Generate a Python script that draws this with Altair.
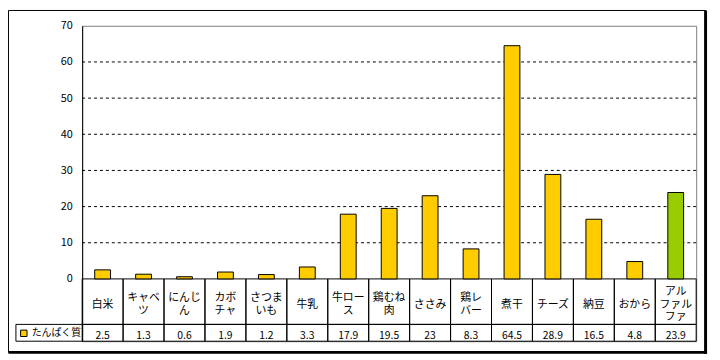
import altair as alt
import pandas as pd

# ---- data ----
categories = ["白米", "キャベツ", "にんじん", "カボチャ", "さつまいも", "牛乳", "牛ロース",
              "鶏むね肉", "ささみ", "鶏レバー", "煮干", "チーズ", "納豆", "おから", "アルファルファ"]
wrapped = ["白米", "キャベ\nツ", "にんじ\nん", "カボ\nチャ", "さつま\nいも", "牛乳", "牛ロー\nス",
           "鶏むね\n肉", "ささみ", "鶏レ\nバー", "煮干", "チーズ", "納豆", "おから", "アル\nファル\nファ"]
values = [2.5, 1.3, 0.6, 1.9, 1.2, 3.3, 17.9, 19.5, 23, 8.3, 64.5, 28.9, 16.5, 4.8, 23.9]
value_text = ["2.5", "1.3", "0.6", "1.9", "1.2", "3.3", "17.9", "19.5", "23", "8.3",
              "64.5", "28.9", "16.5", "4.8", "23.9"]
groups = ["たんぱく質"] * 14 + ["アルファルファ"]
series_name = "たんぱく質"
y_ticks = [0, 10, 20, 30, 40, 50, 60, 70]
grid_vals = [10, 20, 30, 40, 50, 60]

# ---- layout constants (in y-scale units for the data table rows) ----
Y_MAX = 70
ROW1_BOTTOM = -12.58
ROW2_BOTTOM = -17.23
W, H = 621, 319
LINE_H = 12.5                                  # px
LINE_H_UNITS = LINE_H * (Y_MAX - ROW2_BOTTOM) / H
FONT = "Noto Sans CJK JP"

df = pd.DataFrame({"cat": categories, "label": wrapped, "v": values,
                   "vt": value_text, "grp": groups})

xs = alt.Scale(domain=categories, paddingInner=0, paddingOuter=0)
ys = alt.Scale(domain=[ROW2_BOTTOM, Y_MAX], nice=False, zero=False)
yaxis = alt.Axis(values=y_ticks, title=None, grid=False, ticks=False, labelPadding=10,
                 labelFontSize=11, labelFont=FONT, labelColor="black",
                 domainColor="black", domainWidth=1)


def X():
    return alt.X("cat:N", sort=categories, scale=xs, axis=None)


def Y(field):
    return alt.Y(field, scale=ys, axis=yaxis)


base = alt.Chart(df)

grid = alt.Chart(pd.DataFrame({"g": grid_vals})).mark_rule(
    color="black", strokeDash=[3, 3], strokeWidth=1
).encode(y=Y("g:Q"))

bars = base.mark_bar(size=16, stroke="black", strokeWidth=1).encode(
    x=X(),
    y=Y("v:Q"),
    y2=alt.datum(0),
    color=alt.Color("grp:N", scale=alt.Scale(domain=["たんぱく質", "アルファルファ"],
                                             range=["#FFCC00", "#99CC00"]),
                    legend=alt.Legend(orient="none", legendX=-64, legendY=306, title=None,
                                      values=[series_name], symbolType="square",
                                      symbolSize=42, symbolStrokeColor="black",
                                      symbolStrokeWidth=1, labelFontSize=10,
                                      labelFont=FONT, labelColor="black",
                                      padding=0, labelOffset=3)),
)

cells = pd.DataFrame({
    "cat": categories * 2,
    "top": [0] * 15 + [ROW1_BOTTOM] * 15,
    "bot": [ROW1_BOTTOM] * 15 + [ROW2_BOTTOM] * 15,
})
table = alt.Chart(cells).mark_rect(fillOpacity=0, stroke="black", strokeWidth=1).encode(
    x=X(), y=Y("top:Q"), y2="bot:Q"
)

cat_text = base.mark_text(fontSize=11, font=FONT, color="black", lineBreak="\n",
                          lineHeight=LINE_H, baseline="middle", dy=3).transform_calculate(
    n="length(split(datum.label, '\\n'))"
).transform_calculate(
    ly=f"{ROW1_BOTTOM / 2} + (datum.n - 1) * {LINE_H_UNITS / 2}"
).encode(x=X(), y=Y("ly:Q"), text="label:N")

val_text = base.mark_text(fontSize=10.5, font=FONT, color="black", baseline="middle",
                          dy=3).encode(
    x=X(), y=Y("vy:Q"), text="vt:N"
).transform_calculate(vy=str((ROW1_BOTTOM + ROW2_BOTTOM) / 2))

leg_lines = alt.Chart(pd.DataFrame({"ly": [ROW1_BOTTOM, ROW2_BOTTOM]})).mark_rule(
    color="black", strokeWidth=1
).encode(y=Y("ly:Q"), x=alt.value(-67), x2=alt.value(0))

leg_left = alt.Chart(pd.DataFrame({"a": [ROW1_BOTTOM], "b": [ROW2_BOTTOM]})).mark_rule(
    color="black", strokeWidth=1
).encode(y=Y("a:Q"), y2="b:Q", x=alt.value(-67))

frame = alt.Chart(pd.DataFrame({"a": [0]})).mark_rect(
    fillOpacity=0, stroke="black", strokeWidth=1
).encode(x=alt.value(-74.5), x2=alt.value(630.5), y=alt.value(-15.5), y2=alt.value(330.3))

frame_r = alt.Chart(pd.DataFrame({"a": [0]})).mark_rule(color="black", strokeWidth=3).encode(
    x=alt.value(630.5), y=alt.value(-15.5), y2=alt.value(331.8))
frame_b = alt.Chart(pd.DataFrame({"a": [0]})).mark_rule(color="black", strokeWidth=3).encode(
    y=alt.value(330.3), x=alt.value(-74.5), x2=alt.value(632))

chart = alt.layer(
    frame, frame_r, frame_b, grid, table, bars, cat_text, val_text, leg_lines, leg_left
).properties(
    width=W, height=H,
    autosize=alt.AutoSizeParams(type="none"),
    padding={"left": 75, "top": 16, "right": 16, "bottom": 17},
    background="white",
).configure_view(stroke="#808080", strokeWidth=1)

chart.save("out.html", embed_options={"renderer": "svg", "actions": False})
